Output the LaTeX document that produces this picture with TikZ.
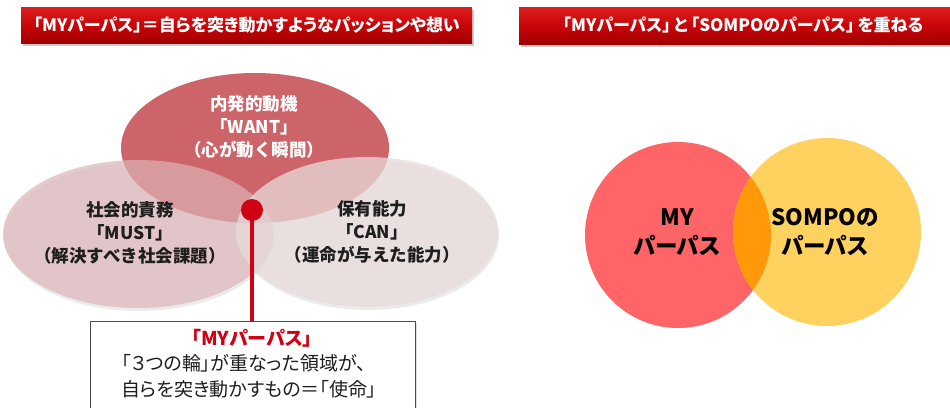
\documentclass[tikz,border=0pt]{standalone}
\usepackage{fontspec}
\setmainfont{Noto Sans CJK JP}[RawFeature=+palt]
\newfontfamily\fullw{Noto Sans CJK JP}
\usetikzlibrary{shadows,calc}
\definecolor{bannerTop}{RGB}{222,30,30}
\definecolor{bannerMid}{RGB}{200,4,8}
\definecolor{bannerBot}{RGB}{160,0,0}
\definecolor{wantC}{RGB}{205,100,105}
\definecolor{mustC}{RGB}{220,180,183}
\definecolor{canC}{RGB}{232,219,219}
\definecolor{dotC}{RGB}{210,0,20}
\definecolor{myC}{RGB}{255,100,102}
\definecolor{sompoC}{RGB}{255,210,95}
\definecolor{txtDark}{RGB}{30,30,30}
\tikzset{
  banner/.style={rectangle, inner sep=0pt, top color=bannerTop, bottom color=bannerBot, middle color=bannerMid,
    drop shadow={shadow xshift=2pt, shadow yshift=-3pt, opacity=0.35, fill=black!60}},
  bantext/.style={text=white, font=\fontsize{17}{20}\selectfont\bfseries},
  ringtext/.style={align=center, font=\fullw\fontsize{17.5}{23}\selectfont\bfseries, text=txtDark},
  circtext/.style={align=center, font=\fontsize{22.5}{29}\selectfont\bfseries, text=black},
}
\begin{document}
\begin{tikzpicture}[x=1pt,y=-1pt]
\useasboundingbox (0,0) rectangle (950,407);
% banners
\node[banner, minimum width=451pt, minimum height=36pt, anchor=north west] (banL) at (21,7) {};
\node[bantext] (banLt) at (banL.center) {「MYパーパス」＝自らを突き動かすようなパッションや想い};
\node[banner, minimum width=440pt, minimum height=37pt, anchor=north west] (banR) at (519,7) {};
\node[bantext] (banRt) at (743,25) {「MYパーパス」\,と\,「SOMPOのパーパス」\,を重ねる};
% shadows of the rings
\fill[black, opacity=0.08] (139,237) ellipse [x radius=135pt, y radius=74pt];
\fill[black, opacity=0.08] (368,235) ellipse [x radius=131pt, y radius=75pt];
% rings
\fill[wantC] (255,148) ellipse [x radius=134pt, y radius=75pt];
\fill[mustC, opacity=0.68] (138,234) ellipse [x radius=135pt, y radius=74pt];
\fill[canC, opacity=0.75] (367,232) ellipse [x radius=131pt, y radius=75pt];
% ring texts
\node[ringtext, text=white] (want) at (254,127) {内発的動機\\「WANT」\\（心が動く瞬間）};
\node[ringtext] (must) at (130,233) {社会的責務\\「MUST」\\（解決すべき社会課題）};
\node[ringtext] (can) at (372,232) {保有能力\\「CAN」\\（運命が与えた能力）};
% box
\node[draw=black!70, line width=1.3pt, fill=white, minimum width=325pt, minimum height=100pt, anchor=north west,
  drop shadow={shadow xshift=1pt, shadow yshift=-1pt, opacity=0.25}] (box) at (90,321) {};
\node[font=\fontsize{19}{22}\selectfont\bfseries, text=dotC] (boxt1) at (252,338) {「MYパーパス」};
\node[font=\fontsize{19}{22}\selectfont, text=txtDark] (boxt2) at (244,363) {「３つの輪」が重なった領域が、};
\node[font=\fontsize{19}{22}\selectfont, text=txtDark] (boxt3) at (249,389) {自らを突き動かすもの＝「使命」};
% dot and line
\node[circle, fill=dotC, minimum size=22pt, inner sep=0pt] (dot) at (252,210) {};
\draw[dotC, line width=4pt] (dot.center) -- (dot.center |- box.north);
% right venn
\fill[myC] (678,235) circle[radius=93pt];
\fill[sompoC] (827,232) circle[radius=94pt];
\begin{scope}
\clip (678,235) circle[radius=93pt];
\fill[orange!85!yellow, opacity=0.9] (827,232) circle[radius=94pt];
\end{scope}
\node[circtext] (my) at (677,232) {MY\\パーパス};
\node[circtext] (sompo) at (825,232) {SOMPOの\\パーパス};
\end{tikzpicture}
\end{document}
